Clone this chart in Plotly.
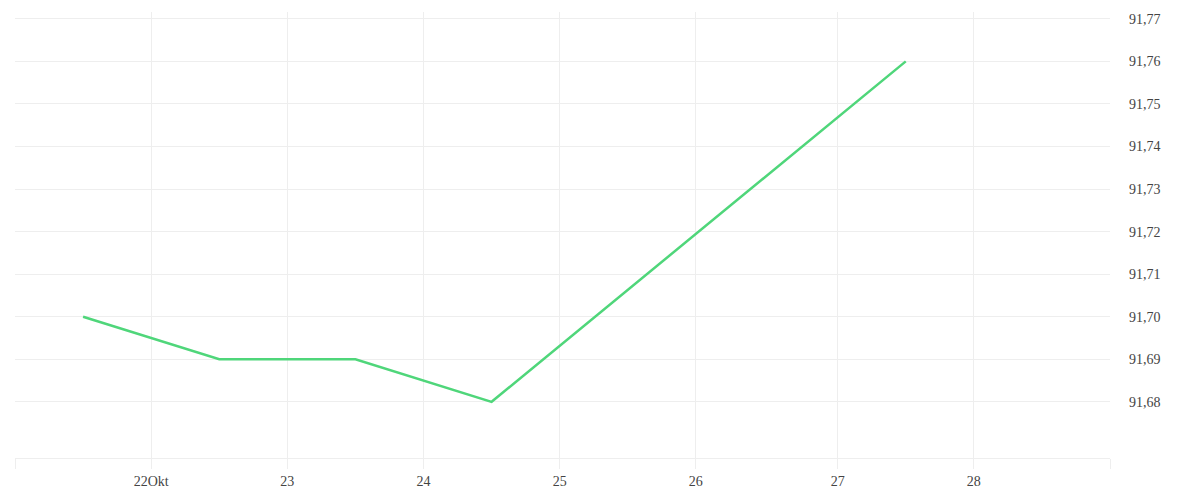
import plotly.graph_objects as go

# Data (times in UTC; local time CEST/CET, DST ends 2014-10-26)
dates_utc = ["2014-10-21 10:00", "2014-10-22 10:00", "2014-10-23 10:00",
             "2014-10-24 10:00", "2014-10-27 11:00"]
values = [91.70, 91.69, 91.69, 91.68, 91.76]

# X ticks at local midnight (expressed in UTC)
xtick_vals = ["2014-10-20 22:00", "2014-10-21 22:00", "2014-10-22 22:00",
              "2014-10-23 22:00", "2014-10-24 22:00", "2014-10-25 22:00",
              "2014-10-26 23:00", "2014-10-27 23:00", "2014-10-28 23:00"]
xtick_text = ["", "22Okt", "23", "24", "25", "26", "27", "28", ""]
x_range = ["2014-10-20 22:00", "2014-10-28 23:00"]

ytick_vals = [91.68, 91.69, 91.70, 91.71, 91.72, 91.73, 91.74, 91.75, 91.76, 91.77]
y_range = [91.6668, 91.7716]

fig = go.Figure()
fig.add_trace(go.Scatter(
    x=dates_utc, y=values, mode="lines",
    line=dict(color="#4fd67a", width=2.5),
    hoverinfo="skip", showlegend=False,
))

font = dict(family="Liberation Serif", size=14, color="#444444")

fig.update_layout(
    width=1200, height=500,
    margin=dict(l=7, r=98, t=4, b=50),
    paper_bgcolor="white", plot_bgcolor="white",
    separators=",.",
    font=font,
    xaxis=dict(
        type="date", range=x_range,
        tickmode="array", tickvals=xtick_vals, ticktext=xtick_text,
        showgrid=True, gridcolor="#eeeeee", gridwidth=1,
        ticks="outside", ticklen=10, tickcolor="#eeeeee", tickwidth=1,
        showline=True, linecolor="#eeeeee", linewidth=1,
        zeroline=False, tickfont=font,
    ),
    yaxis=dict(
        side="right", range=y_range,
        tickmode="array", tickvals=ytick_vals, tickformat=".2f",
        showgrid=True, gridcolor="#eeeeee", gridwidth=1,
        ticks="", ticklabelstandoff=18,
        showline=False, zeroline=False, tickfont=font,
    ),
)

fig.write_html("out.html")
